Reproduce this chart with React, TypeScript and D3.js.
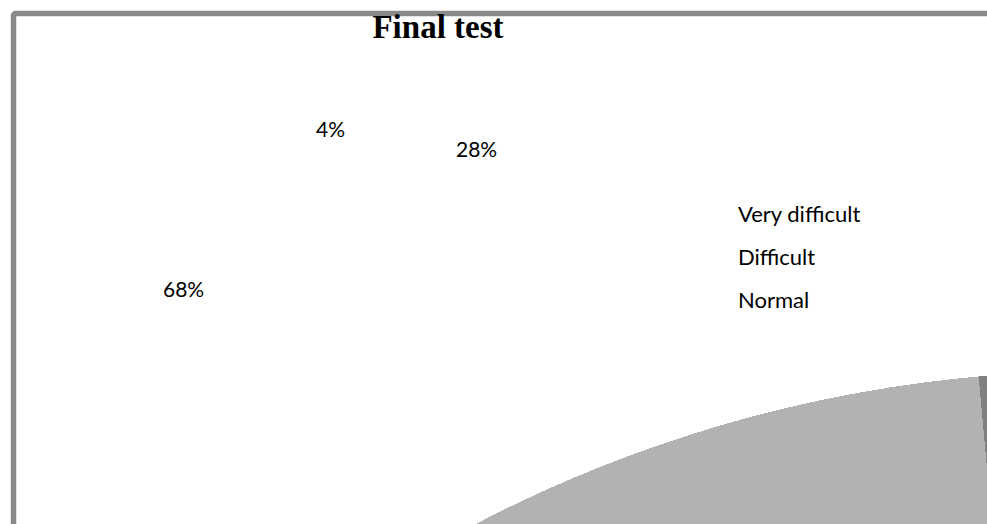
import React from "react";
import * as d3 from "d3";

// Share of answers per difficulty level for the final test
const categories = ["Very difficult", "Difficult", "Normal"];
const shares = [4, 28, 68];
const sliceColors = ["#808080", "#595959", "#b2b2b2"];
const percentLabels = ["4%", "28%", "68%"];

const W = 987;
const H = 524;

// Pie geometry (the pie is drawn very large, only its upper-left rim shows)
const pieCenter = { x: 1100, y: 1721 };
const pieRadius = 1350;
const pieStart = -0.09;

// Where each percentage label sits
const labelAnchors = [
  { x: 316, y: 137 },
  { x: 456, y: 157 },
  { x: 163, y: 297 },
];

const legendX = 738;
const legendTop = 222;
const legendStep = 43;

export default function App() {
  const pie = d3
    .pie<number>()
    .sort(null)
    .value((d) => d)
    .startAngle(pieStart)
    .endAngle(pieStart + 2 * Math.PI);
  const arcs = pie(shares);
  const arc = d3
    .arc<d3.PieArcDatum<number>>()
    .innerRadius(0)
    .outerRadius(pieRadius);

  const legendY = d3
    .scalePoint<string>()
    .domain(categories)
    .range([legendTop, legendTop + legendStep * (categories.length - 1)]);

  const labelFont = "Lato, 'Open Sans', sans-serif";

  return (
    <svg
      width={W}
      height={H}
      style={{ position: "absolute", left: 0, top: 0, background: "#fff" }}
    >
      <rect x={0} y={0} width={W} height={H} fill="#ffffff" />
      {/* chart frame */}
      <rect
        x={13.5}
        y={13.5}
        width={1100}
        height={700}
        rx={2}
        fill="none"
        stroke="#8a8a8a"
        strokeWidth={5.5}
      />
      <text
        x={438}
        y={38}
        textAnchor="middle"
        fontFamily="'Liberation Serif', 'Times New Roman', serif"
        fontWeight="bold"
        fontSize={33}
        fill="#000"
      >
        Final test
      </text>

      {percentLabels.map((t, i) => (
        <text
          key={t}
          x={labelAnchors[i].x}
          y={labelAnchors[i].y}
          fontFamily={labelFont}
          fontSize={21}
          fill="#000"
        >
          {t}
        </text>
      ))}

      {categories.map((c) => (
        <text
          key={c}
          x={legendX}
          y={legendY(c)}
          fontFamily={labelFont}
          fontSize={22}
          fill="#000"
        >
          {c}
        </text>
      ))}

      <g transform={`translate(${pieCenter.x},${pieCenter.y})`}>
        {arcs.map((a, i) => (
          <path
            key={categories[i]}
            d={arc(a) || ""}
            fill={sliceColors[i]}
            shapeRendering="crispEdges"
          />
        ))}
      </g>
    </svg>
  );
}
